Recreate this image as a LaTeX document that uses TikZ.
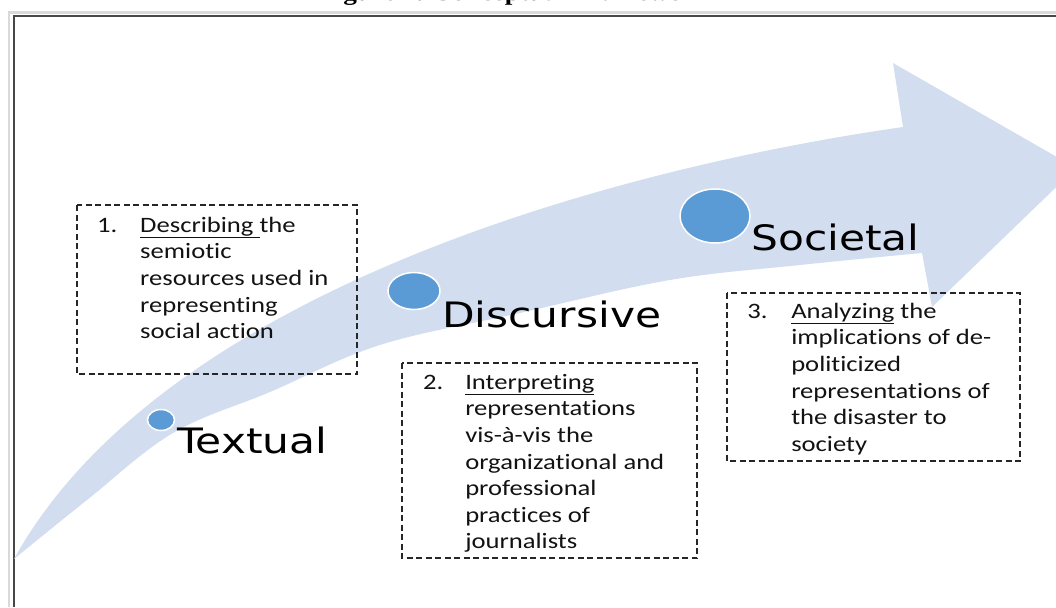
\documentclass[tikz,border=0pt]{standalone}
\usepackage{fontspec}
\usetikzlibrary{shapes.geometric}
\newfontfamily\bodyfont{Carlito}[Ligatures={NoCommon,NoRequired,NoContextual}]
\newfontfamily\labelfont{DejaVu Sans}
\newfontfamily\capfont{Liberation Serif}
\definecolor{band}{HTML}{D2DEEF}
\definecolor{dotblue}{HTML}{5B9BD5}
\definecolor{txt}{HTML}{121212}
\begin{document}
\begin{tikzpicture}[x=1pt,y=-1pt,
  stage/.style={anchor=base west, inner sep=0pt, font=\labelfont\fontsize{35}{41}\selectfont, xscale=1.21},
  num/.style={anchor=base west, inner sep=0pt, font=\bodyfont\fontsize{22}{26.6}\selectfont, text=txt, xscale=1.21},
  body/.style={anchor=north west, inner sep=0pt, align=left, font=\bodyfont\fontsize{22}{26.6}\selectfont, text=txt, xscale=1.21},
  dashbox/.style={draw=black!85, line width=1.3pt, dash pattern=on 6pt off 3.5pt},
  dotc/.style={ellipse, fill=dotblue, draw=white, line width=1.5pt, inner sep=0pt}
]
\useasboundingbox (0,0) rectangle (1056,607);
% caption (cut off at the top)
\node[anchor=base west, inner sep=0pt, font=\capfont\bfseries\fontsize{22.5}{27}\selectfont, xscale=1.21] (cap) at (319,1) {Figure 1. Conceptual Framework};
% frame
\draw[black!15, line width=2.5pt] (9,607) -- (9,12.5) -- (1060,12.5);
\draw[black!72, line width=1.5pt] (14,607) -- (14,16) -- (1060,16);
% curved arrow
\fill[band] (14,559) .. controls (160,295) and (603,170) .. (903,127) -- (893,63) -- (1076,168) -- (932,307) -- (922,253)
  -- plot[smooth, tension=0.6] coordinates {(922,253) (800,265) (670,280) (520,313) (380,345) (270,392) (173,433) (87,500) (14,559)} -- cycle;
% circles
\node[dotc, minimum width=27pt, minimum height=21pt] (c1) at (161,420) {};
\node[dotc, minimum width=52pt, minimum height=37pt] (c2) at (414,291) {};
\node[dotc, minimum width=70pt, minimum height=54pt] (c3) at (715,216) {};
% stage labels
\node[stage] (textual) at (177,453) {Textual};
\node[stage] (discursive) at (442,327) {Discursive};
\node[stage] (societal) at (751,250) {Societal};
% dashed boxes
\draw[dashbox] (77,205) rectangle (357,374);
\draw[dashbox] (402,363) rectangle (697,558);
\draw[dashbox] (727,293) rectangle (1020,461);
% box texts
\node[num] (n1) at (97,232) {1.};
\node[body] (t1) at (140,216) {\rule{0pt}{16pt}\underline{Describing\ }the\\semiotic\\resources used in\\representing\\social action};
\node[num] (n2) at (423,389) {2.};
\node[body] (t2) at (465,373) {\rule{0pt}{16pt}\underline{Interpreting}\\representations\\vis-à-vis the\\organizational and\\professional\\practices of\\journalists};
\node[num] (n3) at (747,318) {3.};
\node[body] (t3) at (791,302) {\rule{0pt}{16pt}\underline{Analyzing} the\\implications of de-\\politicized\\representations of\\the disaster to\\society};
\end{tikzpicture}
\end{document}
